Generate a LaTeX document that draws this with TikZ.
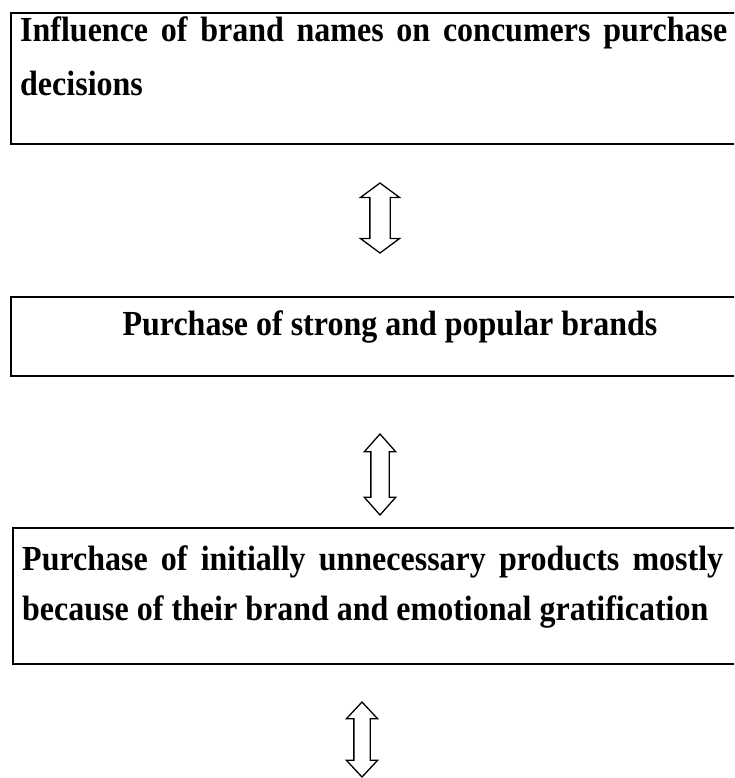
\documentclass[tikz,border=0pt]{standalone}
\usepackage{fontspec}
\usepackage{graphicx}
\setmainfont{Liberation Serif}
\usetikzlibrary{shapes.arrows}
% slightly tall lettering
\newcommand{\tallword}[1]{\scalebox{1}[1.1]{#1}}
\begin{document}
\begin{tikzpicture}[x=1pt,y=-1pt,
  framebox/.style={draw, line width=2pt, inner sep=0pt, anchor=north west},
  txt/.style={font=\fontsize{32}{38}\selectfont\bfseries, inner sep=0pt},
  dblarrow/.style={draw, line width=1.3pt, double arrow, rotate=90,
    inner xsep=0pt}]
\useasboundingbox (0,0) rectangle (734,778);
\clip (0,0) rectangle (734,778);

% frames (right sides run past the page edge)
\node[framebox, minimum width=740pt, minimum height=131pt] (b1) at (10,12) {};
\node[framebox, minimum width=740pt, minimum height=79pt] (b2) at (10,296) {};
\node[framebox, minimum width=740pt, minimum height=136pt] (b3) at (12,527) {};

% texts
\node[txt, anchor=base west] (t1a) at (20,42)
  {\tallword{\makebox[707pt][s]{Influence of brand names on concumers purchase}}};
\node[txt, anchor=base west] (t1b) at (20,96) {\tallword{decisions}};
\node[txt, anchor=base] (t2) at (390,335) {\tallword{Purchase of strong and popular brands}};
\node[txt, anchor=base west] (t3a) at (22,570)
  {\tallword{\makebox[701pt][s]{Purchase of initially unnecessary products mostly}}};
\node[txt, anchor=base west] (t3b) at (22,620)
  {\tallword{because of their brand and emotional gratification}};

% hollow two-way arrows between the frames
\node[dblarrow, minimum height=70pt, inner ysep=9.5pt,
  double arrow head extend=9.5pt, double arrow tip angle=107] (a1) at (380,218) {};
\node[dblarrow, minimum height=81pt, inner ysep=8.5pt,
  double arrow head extend=6.5pt, double arrow tip angle=83] (a2) at (380,474.5) {};
\node[dblarrow, minimum height=75pt, inner ysep=7.5pt,
  double arrow head extend=7.5pt, double arrow tip angle=86] (a3) at (362,739.5) {};
\end{tikzpicture}
\end{document}
